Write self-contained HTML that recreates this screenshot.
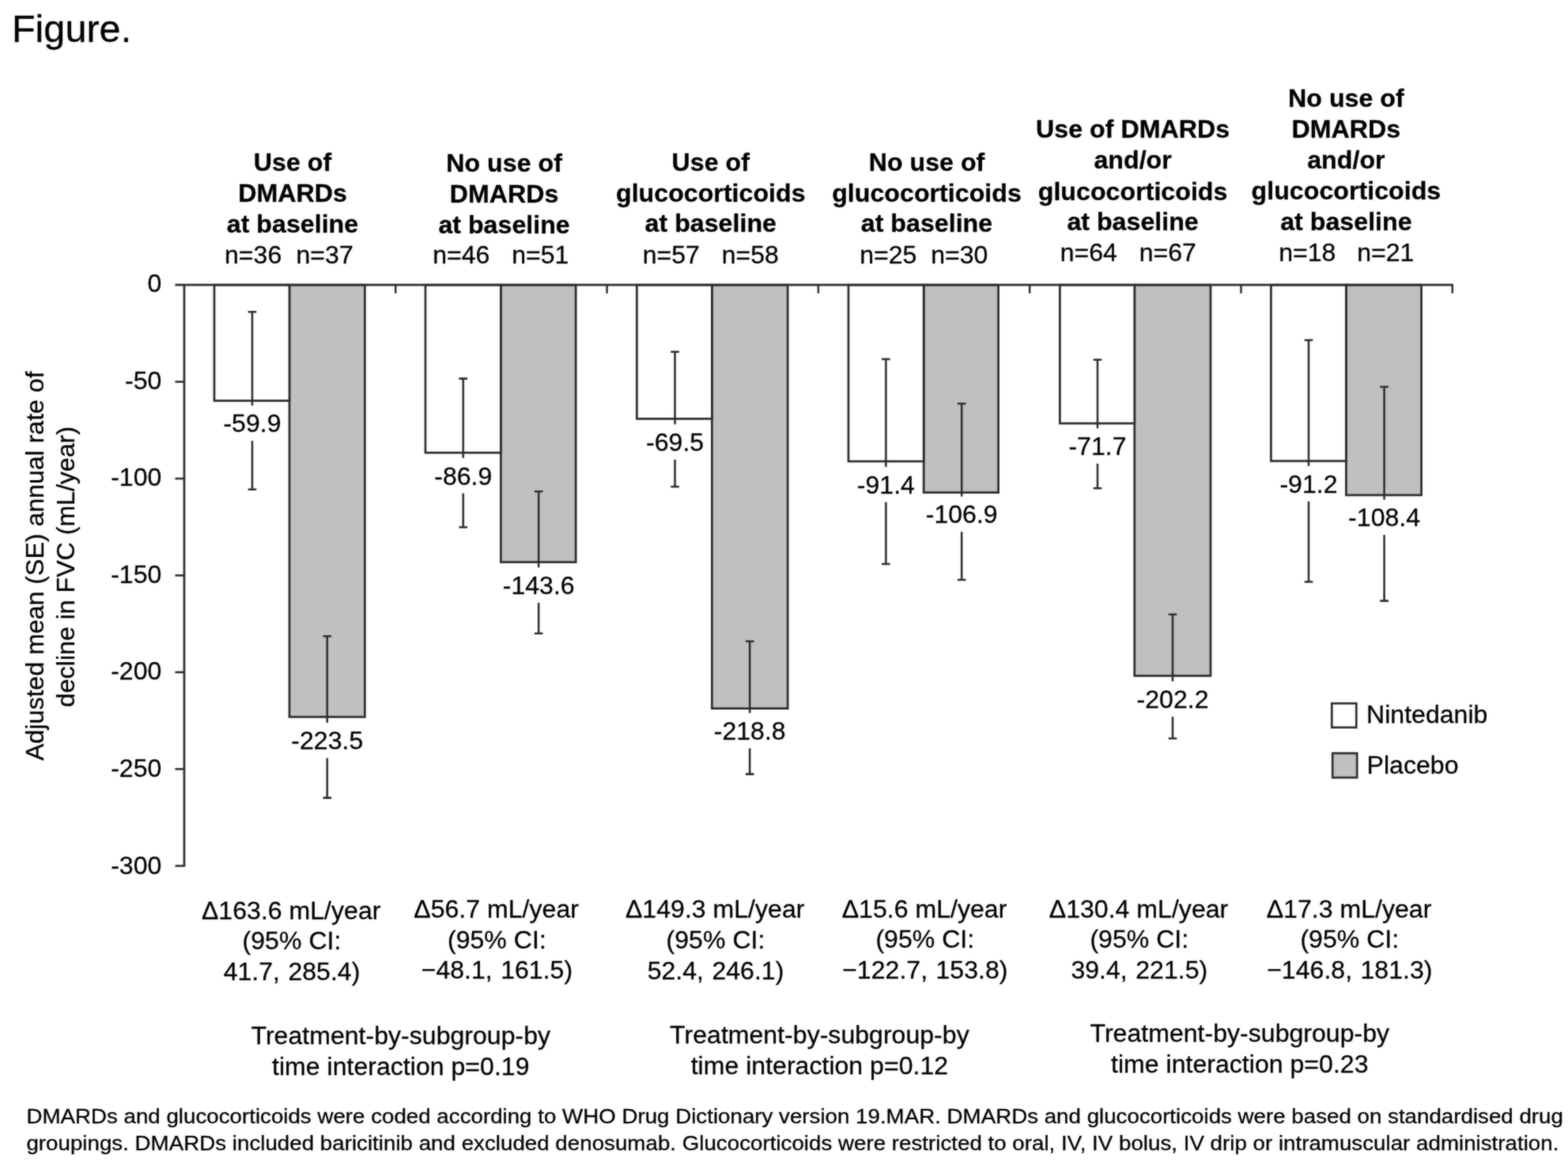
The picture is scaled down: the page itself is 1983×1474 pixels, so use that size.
<!DOCTYPE html>
<html lang="en">
<head>
<meta charset="utf-8">
<title>Figure</title>
<style>
html,body{margin:0;padding:0;background:#fff;}
body{width:1983px;height:1474px;overflow:hidden;}
svg{display:block;}
svg text{font-family:"Liberation Sans",sans-serif;fill:#000;stroke:#000;stroke-width:0.3px;stroke-linejoin:round;}
</style>
</head>
<body>
<svg width="1983" height="1474" viewBox="0 0 1983 1474">
<defs>
<filter id="soft" filterUnits="userSpaceOnUse" x="0" y="0" width="1983" height="1474" color-interpolation-filters="sRGB">
<feGaussianBlur in="SourceGraphic" stdDeviation="0.8" result="b"/>
<feComposite in="SourceGraphic" in2="b" operator="arithmetic" k1="0" k2="0.5" k3="0.5" k4="0"/>
</filter>
</defs>
<g filter="url(#soft)">
<rect x="0" y="0" width="1983" height="1474" fill="#fff"/>
<text x="14.9" y="53.4" text-anchor="start" font-size="48.6">Figure.</text>
<text x="370.0" y="215.8" text-anchor="middle" font-size="32.2" font-weight="bold">Use of</text>
<text x="370.0" y="255.0" text-anchor="middle" font-size="32.2" font-weight="bold">DMARDs</text>
<text x="370.0" y="293.6" text-anchor="middle" font-size="32.2" font-weight="bold">at baseline</text>
<text x="284.0" y="332.5" text-anchor="start" font-size="32.1">n=36</text>
<text x="374.5" y="332.5" text-anchor="start" font-size="32.1">n=37</text>
<text x="637.6" y="217.0" text-anchor="middle" font-size="32.2" font-weight="bold">No use of</text>
<text x="637.6" y="256.0" text-anchor="middle" font-size="32.2" font-weight="bold">DMARDs</text>
<text x="637.6" y="294.6" text-anchor="middle" font-size="32.2" font-weight="bold">at baseline</text>
<text x="547.2" y="333.3" text-anchor="start" font-size="32.1">n=46</text>
<text x="647.2" y="333.3" text-anchor="start" font-size="32.1">n=51</text>
<text x="898.8" y="215.8" text-anchor="middle" font-size="32.2" font-weight="bold">Use of</text>
<text x="898.8" y="254.6" text-anchor="middle" font-size="32.2" font-weight="bold">glucocorticoids</text>
<text x="898.8" y="293.4" text-anchor="middle" font-size="32.2" font-weight="bold">at baseline</text>
<text x="812.7" y="332.5" text-anchor="start" font-size="32.1">n=57</text>
<text x="912.7" y="332.5" text-anchor="start" font-size="32.1">n=58</text>
<text x="1172.0" y="215.8" text-anchor="middle" font-size="32.2" font-weight="bold">No use of</text>
<text x="1172.0" y="254.6" text-anchor="middle" font-size="32.2" font-weight="bold">glucocorticoids</text>
<text x="1172.0" y="293.4" text-anchor="middle" font-size="32.2" font-weight="bold">at baseline</text>
<text x="1087.2" y="332.5" text-anchor="start" font-size="32.1">n=25</text>
<text x="1177.2" y="332.5" text-anchor="start" font-size="32.1">n=30</text>
<text x="1432.6" y="174.0" text-anchor="middle" font-size="32.2" font-weight="bold">Use of DMARDs</text>
<text x="1432.6" y="213.0" text-anchor="middle" font-size="32.2" font-weight="bold">and/or</text>
<text x="1432.6" y="252.6" text-anchor="middle" font-size="32.2" font-weight="bold">glucocorticoids</text>
<text x="1432.6" y="291.4" text-anchor="middle" font-size="32.2" font-weight="bold">at baseline</text>
<text x="1340.7" y="330.3" text-anchor="start" font-size="32.1">n=64</text>
<text x="1440.7" y="330.3" text-anchor="start" font-size="32.1">n=67</text>
<text x="1702.4" y="135.2" text-anchor="middle" font-size="32.2" font-weight="bold">No use of</text>
<text x="1702.4" y="173.6" text-anchor="middle" font-size="32.2" font-weight="bold">DMARDs</text>
<text x="1702.4" y="213.0" text-anchor="middle" font-size="32.2" font-weight="bold">and/or</text>
<text x="1702.4" y="251.8" text-anchor="middle" font-size="32.2" font-weight="bold">glucocorticoids</text>
<text x="1702.4" y="290.6" text-anchor="middle" font-size="32.2" font-weight="bold">at baseline</text>
<text x="1617.2" y="329.5" text-anchor="start" font-size="32.1">n=18</text>
<text x="1716.2" y="329.5" text-anchor="start" font-size="32.1">n=21</text>
<text x="204.4" y="368.9" text-anchor="end" font-size="32.1">0</text>
<text x="204.4" y="491.5" text-anchor="end" font-size="32.1">-50</text>
<text x="204.4" y="614.1" text-anchor="end" font-size="32.1">-100</text>
<text x="204.4" y="736.7" text-anchor="end" font-size="32.1">-150</text>
<text x="204.4" y="859.3" text-anchor="end" font-size="32.1">-200</text>
<text x="204.4" y="981.9" text-anchor="end" font-size="32.1">-250</text>
<text x="204.4" y="1104.5" text-anchor="end" font-size="32.1">-300</text>
<text transform="translate(55.4,715.5) rotate(-90)" text-anchor="middle" font-size="32.1">Adjusted mean (SE) annual rate of</text>
<text transform="translate(94.0,716.5) rotate(-90)" text-anchor="middle" font-size="32.1">decline in FVC (mL/year)</text>
<rect x="366.0" y="360.2" width="95.4" height="546.1" fill="#c0c0c0" stroke="#2c2c2c" stroke-width="2.75"/>
<rect x="271.0" y="360.2" width="95.0" height="146.4" fill="#fff" stroke="#2c2c2c" stroke-width="2.75"/>
<rect x="633.4" y="360.2" width="94.8" height="350.4" fill="#c0c0c0" stroke="#2c2c2c" stroke-width="2.75"/>
<rect x="538.0" y="360.2" width="95.4" height="212.1" fill="#fff" stroke="#2c2c2c" stroke-width="2.75"/>
<rect x="900.4" y="360.2" width="95.8" height="535.4" fill="#c0c0c0" stroke="#2c2c2c" stroke-width="2.75"/>
<rect x="805.4" y="360.2" width="95.0" height="169.2" fill="#fff" stroke="#2c2c2c" stroke-width="2.75"/>
<rect x="1168.2" y="360.2" width="94.4" height="262.4" fill="#c0c0c0" stroke="#2c2c2c" stroke-width="2.75"/>
<rect x="1073.0" y="360.2" width="95.2" height="223.0" fill="#fff" stroke="#2c2c2c" stroke-width="2.75"/>
<rect x="1434.8" y="360.2" width="96.2" height="494.1" fill="#c0c0c0" stroke="#2c2c2c" stroke-width="2.75"/>
<rect x="1340.4" y="360.2" width="94.4" height="175.0" fill="#fff" stroke="#2c2c2c" stroke-width="2.75"/>
<rect x="1702.4" y="360.2" width="95.2" height="265.7" fill="#c0c0c0" stroke="#2c2c2c" stroke-width="2.75"/>
<rect x="1607.4" y="360.2" width="95.0" height="222.6" fill="#fff" stroke="#2c2c2c" stroke-width="2.75"/>
<path d="M319.0 394.3V618.7M313.7 394.3h10.6M313.7 618.7h10.6" stroke="#2c2c2c" stroke-width="2.55" fill="none"/>
<path d="M413.8 804.3V1008.6M408.5 804.3h10.6M408.5 1008.6h10.6" stroke="#2c2c2c" stroke-width="2.55" fill="none"/>
<path d="M585.8 478.6V666.5M580.5 478.6h10.6M580.5 666.5h10.6" stroke="#2c2c2c" stroke-width="2.55" fill="none"/>
<path d="M681.2 621.2V800.8M675.9 621.2h10.6M675.9 800.8h10.6" stroke="#2c2c2c" stroke-width="2.55" fill="none"/>
<path d="M853.6 444.7V615.3M848.3 444.7h10.6M848.3 615.3h10.6" stroke="#2c2c2c" stroke-width="2.55" fill="none"/>
<path d="M948.2 810.8V978.6M942.9 810.8h10.6M942.9 978.6h10.6" stroke="#2c2c2c" stroke-width="2.55" fill="none"/>
<path d="M1120.4 454.0V713.0M1115.1 454.0h10.6M1115.1 713.0h10.6" stroke="#2c2c2c" stroke-width="2.55" fill="none"/>
<path d="M1216.2 510.3V733.0M1210.9 510.3h10.6M1210.9 733.0h10.6" stroke="#2c2c2c" stroke-width="2.55" fill="none"/>
<path d="M1388.0 454.7V617.2M1382.7 454.7h10.6M1382.7 617.2h10.6" stroke="#2c2c2c" stroke-width="2.55" fill="none"/>
<path d="M1483.0 776.7V933.5M1477.7 776.7h10.6M1477.7 933.5h10.6" stroke="#2c2c2c" stroke-width="2.55" fill="none"/>
<path d="M1655.0 430.0V735.4M1649.7 430.0h10.6M1649.7 735.4h10.6" stroke="#2c2c2c" stroke-width="2.55" fill="none"/>
<path d="M1750.6 489.0V759.6M1745.3 489.0h10.6M1745.3 759.6h10.6" stroke="#2c2c2c" stroke-width="2.55" fill="none"/>
<rect x="311.0" y="512.7" width="16" height="44.6" fill="#fff"/>
<rect x="405.8" y="913.7" width="16" height="44.6" fill="#fff"/>
<rect x="577.8" y="579.0" width="16" height="44.6" fill="#fff"/>
<rect x="673.2" y="717.4" width="16" height="44.6" fill="#fff"/>
<rect x="845.6" y="536.5" width="16" height="44.6" fill="#fff"/>
<rect x="940.2" y="901.4" width="16" height="44.6" fill="#fff"/>
<rect x="1112.4" y="590.2" width="16" height="44.6" fill="#fff"/>
<rect x="1208.2" y="627.7" width="16" height="44.6" fill="#fff"/>
<rect x="1380.0" y="541.5" width="16" height="44.6" fill="#fff"/>
<rect x="1475.0" y="861.4" width="16" height="44.6" fill="#fff"/>
<rect x="1647.0" y="589.2" width="16" height="44.6" fill="#fff"/>
<rect x="1742.6" y="631.6" width="16" height="44.6" fill="#fff"/>
<text x="319.0" y="546.3" text-anchor="middle" font-size="32.1">-59.9</text>
<text x="413.8" y="947.3" text-anchor="middle" font-size="32.1">-223.5</text>
<text x="585.8" y="612.6" text-anchor="middle" font-size="32.1">-86.9</text>
<text x="681.2" y="751.0" text-anchor="middle" font-size="32.1">-143.6</text>
<text x="853.6" y="570.1" text-anchor="middle" font-size="32.1">-69.5</text>
<text x="948.2" y="935.0" text-anchor="middle" font-size="32.1">-218.8</text>
<text x="1120.4" y="623.8" text-anchor="middle" font-size="32.1">-91.4</text>
<text x="1216.2" y="661.3" text-anchor="middle" font-size="32.1">-106.9</text>
<text x="1388.0" y="575.1" text-anchor="middle" font-size="32.1">-71.7</text>
<text x="1483.0" y="895.0" text-anchor="middle" font-size="32.1">-202.2</text>
<text x="1655.0" y="622.8" text-anchor="middle" font-size="32.1">-91.2</text>
<text x="1750.6" y="665.2" text-anchor="middle" font-size="32.1">-108.4</text>
<path d="M221.5 360.2H1837.9" stroke="#2c2c2c" stroke-width="2.75" fill="none"/>
<path d="M233.0 360.2V1094.6" stroke="#2c2c2c" stroke-width="2.75" fill="none"/>
<path d="M221.5 482.6H234.2" stroke="#2c2c2c" stroke-width="2.6" fill="none"/>
<path d="M221.5 605.0H234.2" stroke="#2c2c2c" stroke-width="2.6" fill="none"/>
<path d="M221.5 727.4H234.2" stroke="#2c2c2c" stroke-width="2.6" fill="none"/>
<path d="M221.5 849.8H234.2" stroke="#2c2c2c" stroke-width="2.6" fill="none"/>
<path d="M221.5 972.2H234.2" stroke="#2c2c2c" stroke-width="2.6" fill="none"/>
<path d="M221.5 1094.6H234.2" stroke="#2c2c2c" stroke-width="2.6" fill="none"/>
<path d="M500.3 360.2V370.8" stroke="#2c2c2c" stroke-width="2.5" fill="none"/>
<path d="M767.6 360.2V370.8" stroke="#2c2c2c" stroke-width="2.5" fill="none"/>
<path d="M1034.9 360.2V370.8" stroke="#2c2c2c" stroke-width="2.5" fill="none"/>
<path d="M1302.2 360.2V370.8" stroke="#2c2c2c" stroke-width="2.5" fill="none"/>
<path d="M1569.5 360.2V370.8" stroke="#2c2c2c" stroke-width="2.5" fill="none"/>
<path d="M1836.8 360.2V370.8" stroke="#2c2c2c" stroke-width="2.5" fill="none"/>
<text x="368.2" y="1161.6" text-anchor="middle" font-size="32.1">Δ163.6 mL/year</text>
<text x="369.0" y="1200.3" text-anchor="middle" font-size="32.1">(95% CI:</text>
<text x="369.0" y="1239.0" text-anchor="middle" font-size="32.1" word-spacing="1.5">41.7, 285.4)</text>
<text x="627.6" y="1160.0" text-anchor="middle" font-size="32.1">Δ56.7 mL/year</text>
<text x="628.4" y="1198.7" text-anchor="middle" font-size="32.1">(95% CI:</text>
<text x="628.4" y="1237.4" text-anchor="middle" font-size="32.1" word-spacing="1.5">−48.1, 161.5)</text>
<text x="904.2" y="1160.2" text-anchor="middle" font-size="32.1">Δ149.3 mL/year</text>
<text x="905.0" y="1198.9" text-anchor="middle" font-size="32.1">(95% CI:</text>
<text x="905.0" y="1237.6" text-anchor="middle" font-size="32.1" word-spacing="1.5">52.4, 246.1)</text>
<text x="1169.0" y="1159.6" text-anchor="middle" font-size="32.1">Δ15.6 mL/year</text>
<text x="1169.8" y="1198.3" text-anchor="middle" font-size="32.1">(95% CI:</text>
<text x="1169.8" y="1237.0" text-anchor="middle" font-size="32.1" word-spacing="1.5">−122.7, 153.8)</text>
<text x="1440.0" y="1159.6" text-anchor="middle" font-size="32.1">Δ130.4 mL/year</text>
<text x="1440.8" y="1198.3" text-anchor="middle" font-size="32.1">(95% CI:</text>
<text x="1440.8" y="1237.0" text-anchor="middle" font-size="32.1" word-spacing="1.5">39.4, 221.5)</text>
<text x="1706.0" y="1159.6" text-anchor="middle" font-size="32.1">Δ17.3 mL/year</text>
<text x="1706.8" y="1198.3" text-anchor="middle" font-size="32.1">(95% CI:</text>
<text x="1706.8" y="1237.0" text-anchor="middle" font-size="32.1" word-spacing="1.5">−146.8, 181.3)</text>
<text x="506.8" y="1319.6" text-anchor="middle" font-size="32.1">Treatment-by-subgroup-by</text>
<text x="506.8" y="1358.6" text-anchor="middle" font-size="32.1">time interaction p=0.19</text>
<text x="1036.4" y="1318.9" text-anchor="middle" font-size="32.1">Treatment-by-subgroup-by</text>
<text x="1036.4" y="1358.1" text-anchor="middle" font-size="32.1">time interaction p=0.12</text>
<text x="1567.8" y="1317.2" text-anchor="middle" font-size="32.1">Treatment-by-subgroup-by</text>
<text x="1567.8" y="1355.9" text-anchor="middle" font-size="32.1">time interaction p=0.23</text>
<rect x="1684.3" y="889.2" width="31.0" height="30.4" fill="#fff" stroke="#2c2c2c" stroke-width="2.7"/>
<rect x="1685.2" y="952.2" width="31.0" height="30.8" fill="#c0c0c0" stroke="#2c2c2c" stroke-width="2.7"/>
<text x="1728.0" y="914.3" text-anchor="start" font-size="32.1">Nintedanib</text>
<text x="1728.6" y="977.9" text-anchor="start" font-size="32.1">Placebo</text>
<text class="fn" x="33.4" y="1420.4" font-size="25.7" textLength="1943.5" lengthAdjust="spacingAndGlyphs">DMARDs and glucocorticoids were coded according to WHO Drug Dictionary version 19.MAR. DMARDs and glucocorticoids were based on standardised drug</text>
<text class="fn" x="33.4" y="1454.2" font-size="25.7" textLength="1938.0" lengthAdjust="spacingAndGlyphs">groupings. DMARDs included baricitinib and excluded denosumab. Glucocorticoids were restricted to oral, IV, IV bolus, IV drip or intramuscular administration.</text>
</g>
</svg>
</body>
</html>
